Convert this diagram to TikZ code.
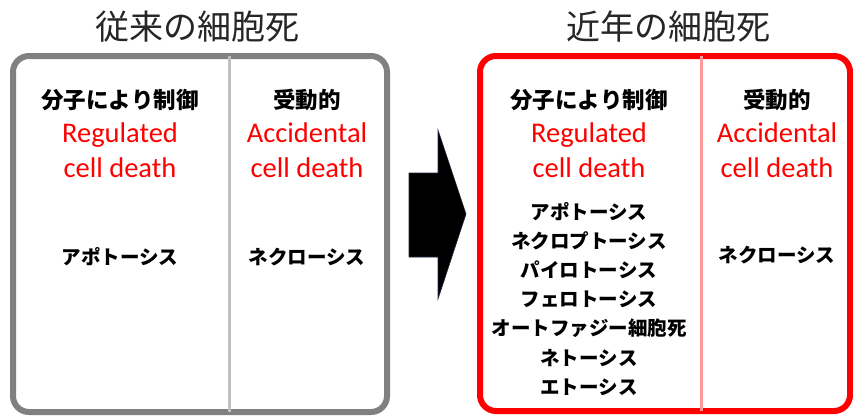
\documentclass[tikz,border=0pt]{standalone}
\usepackage{fontspec}
\setmainfont{Carlito}
\newfontfamily\jp{Noto Sans CJK JP}
\definecolor{boxgray}{HTML}{808080}
\definecolor{divgray}{HTML}{C0C0C0}
\definecolor{divpink}{HTML}{FF9999}
\definecolor{arrowedge}{HTML}{1F2A44}
\begin{document}
\begin{tikzpicture}[x=1pt,y=-1pt,
  title/.style={font=\jp\fontsize{34}{38}\selectfont, text=black!85},
  head/.style={font=\jp\bfseries\fontsize{22.5}{26}\selectfont},
  eng/.style={font=\fontsize{28.5}{35}\selectfont, text=red, align=center},
  item/.style={font=\jp\bfseries\fontsize{19.5}{22}\selectfont},
  frame/.style={line width=6pt, rounded corners=16pt},
  divider/.style={line width=3pt}]
\useasboundingbox (0,0) rectangle (853,416);
% titles
\node[title] (t1) at (197,27) {従来の細胞死};
\node[title] (t2) at (668,27) {近年の細胞死};
% left frame
\draw[frame, draw=boxgray] (13,56) rectangle (387,412);
\coordinate (ld1) at (229,56);
\coordinate (ld2) at (229,412);
\draw[divider, draw=divgray] (ld1) -- (ld2);
% right frame
\draw[frame, draw=red] (480,56) rectangle (850,411);
\coordinate (rd1) at (701,56);
\coordinate (rd2) at (701,411);
\draw[divider, draw=divpink] (rd1) -- (rd2);
% arrow
\fill[black, draw=arrowedge, line width=0.6pt]
  (409,173) -- (438,173) -- (438,130) -- (466,214) -- (438,299) -- (438,257) -- (409,257) -- cycle;
% left contents
\node[head] (lh1) at (120,100) {分子により制御};
\node[eng] (le1) at (120,150) {Regulated\\cell death};
\node[item] (la1) at (120,257) {アポトーシス};
\node[head] (lh2) at (307,100) {受動的};
\node[eng] (le2) at (307,150) {Accidental\\cell death};
\node[item] (la2) at (307,257) {ネクローシス};
% right contents
\node[head] (rh1) at (589,100) {分子により制御};
\node[eng] (re1) at (589,150) {Regulated\\cell death};
\node[item] (r1) at (589,212) {アポトーシス};
\node[item] (r2) at (589,241) {ネクロプトーシス};
\node[item] (r3) at (589,270) {パイロトーシス};
\node[item] (r4) at (589,299) {フェロトーシス};
\node[item] (r5) at (589,328) {オートファジー細胞死};
\node[item] (r6) at (589,358) {ネトーシス};
\node[item] (r7) at (589,387) {エトーシス};
\node[head] (rh2) at (777,100) {受動的};
\node[eng] (re2) at (777,150) {Accidental\\cell death};
\node[item] (ra2) at (777,255) {ネクローシス};
\end{tikzpicture}
\end{document}
